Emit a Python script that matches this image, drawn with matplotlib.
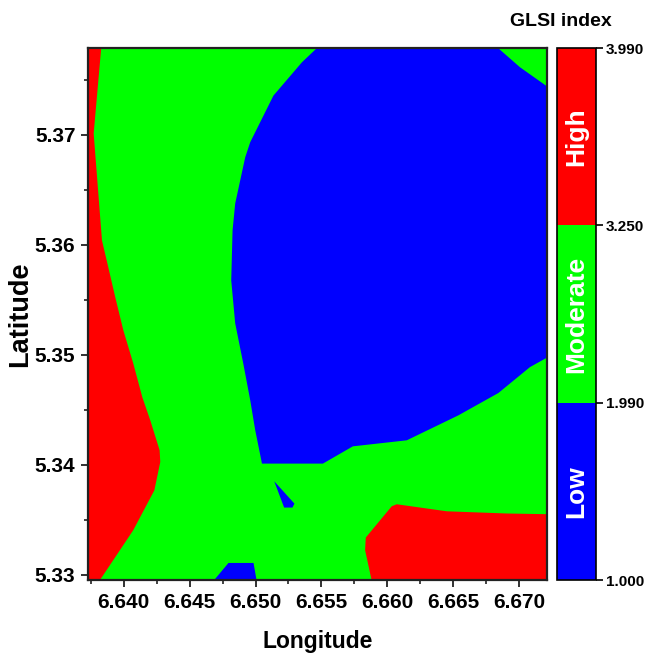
import matplotlib
matplotlib.use('Agg')
import matplotlib.pyplot as plt
from matplotlib.colors import ListedColormap, BoundaryNorm
from matplotlib.cm import ScalarMappable
from matplotlib.ticker import MultipleLocator, FormatStrFormatter

# GLSI class zones, outlines (longitude, latitude)
red_west_lon = [6.6370, 6.63831, 6.63773, 6.63836, 6.63877, 6.63937, 6.63998, 6.64073,
                6.64142, 6.64202, 6.64273, 6.64278, 6.64233, 6.64073, 6.63793, 6.6370]
red_west_lat = [5.3780, 5.3780, 5.37012, 5.36039, 5.35830, 5.35521, 5.35221, 5.34921,
                5.34612, 5.34403, 5.34130, 5.34024, 5.33766, 5.33403, 5.3290, 5.3290]

red_east_lon = [6.65889, 6.65831, 6.65836, 6.66033, 6.66071, 6.66450, 6.66905, 6.6725, 6.6725]
red_east_lat = [5.3290, 5.33221, 5.33336, 5.33621, 5.33639, 5.33575, 5.33555, 5.33548, 5.3290]

blue_core_lon = [6.65475, 6.66829, 6.67005, 6.6725, 6.6725, 6.67081, 6.66841, 6.66538,
                 6.66147, 6.65738, 6.65511, 6.65049, 6.64998, 6.64960, 6.64907, 6.64846,
                 6.64816, 6.64826, 6.64846, 6.64922, 6.64960, 6.65136, 6.65352]
blue_core_lat = [5.3780, 5.3780, 5.37615, 5.37407, 5.3500, 5.34887, 5.34651, 5.34448,
                 5.34221, 5.34166, 5.34009, 5.34009, 5.34312, 5.34585, 5.34921, 5.35285,
                 5.35675, 5.36130, 5.36375, 5.36796, 5.36933, 5.37357, 5.37660]

blue_spot_lon = [6.65142, 6.65295, 6.65280, 6.65217]
blue_spot_lat = [5.33848, 5.33645, 5.33609, 5.33609]

blue_south_lon = [6.64652, 6.64795, 6.64985, 6.65015]
blue_south_lat = [5.3290, 5.33105, 5.33105, 5.3290]

class_bounds = [1.000, 1.990, 3.250, 3.990]
class_names = ['Low', 'Moderate', 'High']
class_colors = ['#0000FF', '#00FF00', '#FF0000']

plt.rcParams['font.family'] = ['Liberation Sans', 'DejaVu Sans']
plt.rcParams['font.weight'] = 'bold'

fig = plt.figure(figsize=(6.47, 6.56), dpi=100)
ax = fig.add_axes([88 / 647, 76 / 656, 459 / 647, 532 / 656])
ax.set_facecolor(class_colors[1])

ax.fill(red_west_lon, red_west_lat, color=class_colors[2], lw=0)
ax.fill(red_east_lon, red_east_lat, color=class_colors[2], lw=0)
ax.fill(blue_core_lon, blue_core_lat, color=class_colors[0], lw=0)
ax.fill(blue_spot_lon, blue_spot_lat, color=class_colors[0], lw=0)
ax.fill(blue_south_lon, blue_south_lat, color=class_colors[0], lw=0)

ax.set_xlim(6.6373, 6.6721)
ax.set_ylim(5.3295, 5.3779)
ax.xaxis.set_major_locator(MultipleLocator(0.005))
ax.xaxis.set_minor_locator(MultipleLocator(0.0025))
ax.yaxis.set_major_locator(MultipleLocator(0.01))
ax.yaxis.set_minor_locator(MultipleLocator(0.005))
ax.xaxis.set_major_formatter(FormatStrFormatter('%.3f'))
ax.yaxis.set_major_formatter(FormatStrFormatter('%.2f'))
ax.tick_params(which='major', direction='out', length=5, width=1.3, color='#222222',
               labelsize=15, pad=4)
ax.tick_params(which='minor', direction='out', length=3, width=1.2, color='#222222')
for sp in ax.spines.values():
    sp.set_linewidth(1.6)
    sp.set_color('#222222')

ax.set_xlabel('Longitude', fontsize=16.5, fontweight='bold', labelpad=13)
ax.set_ylabel('Latitude', fontsize=19.5, fontweight='bold', labelpad=1)

# colour bar with equal-height classes
cmap = ListedColormap(class_colors)
norm = BoundaryNorm(class_bounds, cmap.N)
cax = fig.add_axes([557 / 647, 76 / 656, 39 / 647, 532 / 656])
cb = fig.colorbar(ScalarMappable(norm=norm, cmap=cmap), cax=cax, ticks=class_bounds,
                  format='%.3f')
cb.outline.set_linewidth(1.2)
cb.ax.tick_params(length=5, width=1.2, labelsize=11, pad=2)
for i, name in enumerate(class_names):
    cb.ax.text(0.5, (i + 0.5) / len(class_names), name, transform=cb.ax.transAxes,
               rotation=90, ha='center', va='center', color='white',
               fontsize=19, fontweight='bold')

fig.text(561 / 647, 1 - 22 / 656, 'GLSI index', ha='center', va='center',
         fontsize=14, fontweight='bold')

fig.savefig('out.png', dpi=100)
